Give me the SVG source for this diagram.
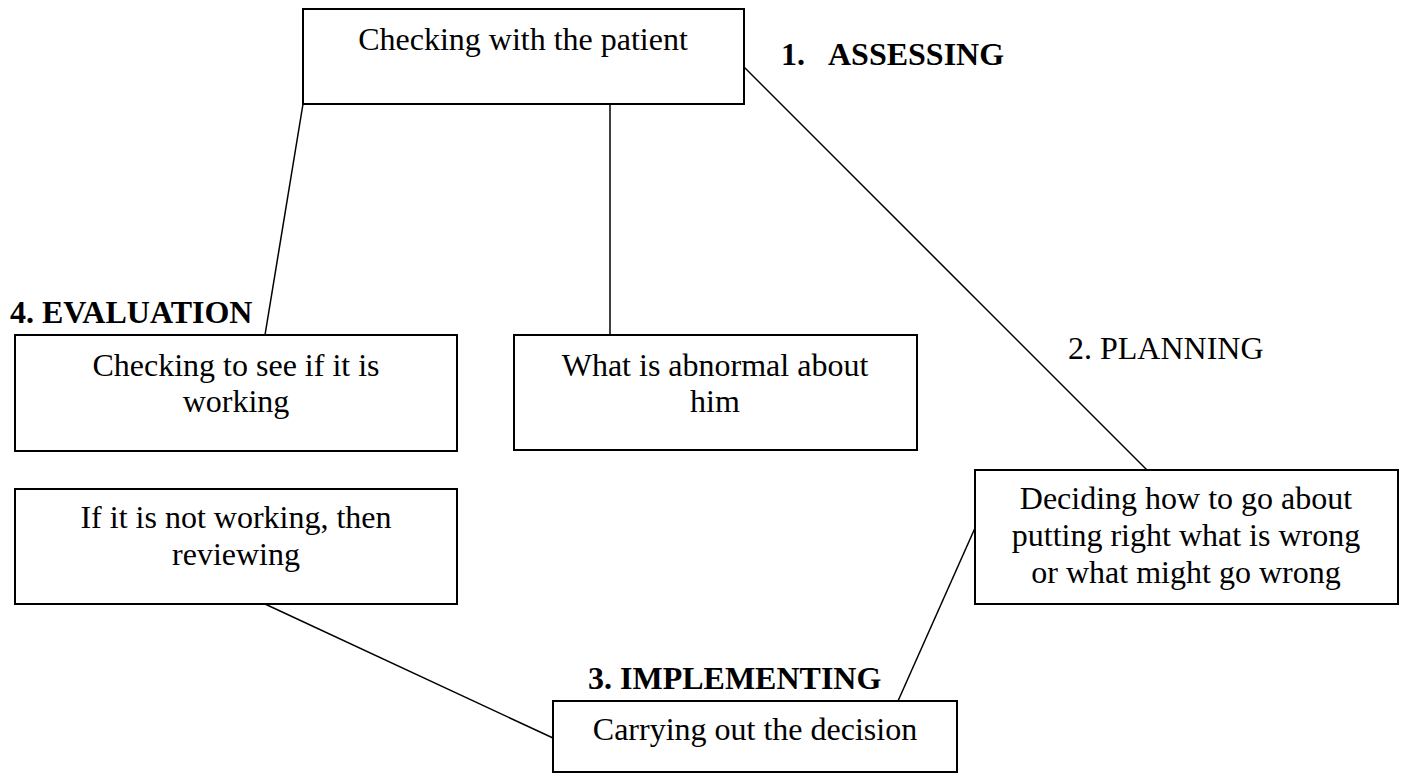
<svg xmlns="http://www.w3.org/2000/svg" width="1404" height="774" viewBox="0 0 1404 774">
<style>
.box{fill:#fff;stroke:#000;stroke-width:2}
.t{font-family:"Liberation Serif","Times New Roman",serif;font-size:32px;fill:#000;text-anchor:middle}
.lb{font-family:"Liberation Serif","Times New Roman",serif;font-size:32px;fill:#000}
.b{font-weight:bold}
.c{stroke:#000;stroke-width:1.5;fill:none}
</style>
<rect width="1404" height="774" fill="#fff"/>
<g id="connectors">
<line class="c" x1="744" y1="67" x2="1147" y2="470"/>
<line class="c" x1="610" y1="104" x2="610" y2="335"/>
<line class="c" x1="303" y1="104" x2="265" y2="335"/>
<line class="c" x1="265" y1="604" x2="553" y2="738"/>
<line class="c" x1="975" y1="528" x2="898" y2="701"/>
</g>
<g id="n1">
<rect class="box" x="303" y="9" width="441" height="95"/>
<text class="t" x="523" y="50">Checking with the patient</text>
</g>
<g id="n2">
<rect class="box" x="514" y="335" width="403" height="115"/>
<text class="t" x="715" y="376">What is abnormal about</text>
<text class="t" x="715" y="412">him</text>
</g>
<g id="n3">
<rect class="box" x="15" y="335" width="442" height="116"/>
<text class="t" x="236" y="376">Checking to see if it is</text>
<text class="t" x="236" y="412">working</text>
</g>
<g id="n4">
<rect class="box" x="975" y="470" width="423" height="134"/>
<text class="t" x="1186" y="509">Deciding how to go about</text>
<text class="t" x="1186" y="546">putting right what is wrong</text>
<text class="t" x="1186" y="583">or what might go wrong</text>
</g>
<g id="n5">
<rect class="box" x="15" y="489" width="442" height="115"/>
<text class="t" x="236" y="528">If it is not working, then</text>
<text class="t" x="236" y="565">reviewing</text>
</g>
<g id="n6">
<rect class="box" x="553" y="701" width="404" height="71"/>
<text class="t" x="755" y="740">Carrying out the decision</text>
</g>
<g id="labels">
<text class="lb b" x="781" y="65">1.</text>
<text class="lb b" x="828" y="65">ASSESSING</text>
<text class="lb" x="1068" y="359">2. PLANNING</text>
<text class="lb b" x="588" y="689">3. IMPLEMENTING</text>
<text class="lb b" x="10" y="323">4. EVALUATION</text>
</g>
</svg>
